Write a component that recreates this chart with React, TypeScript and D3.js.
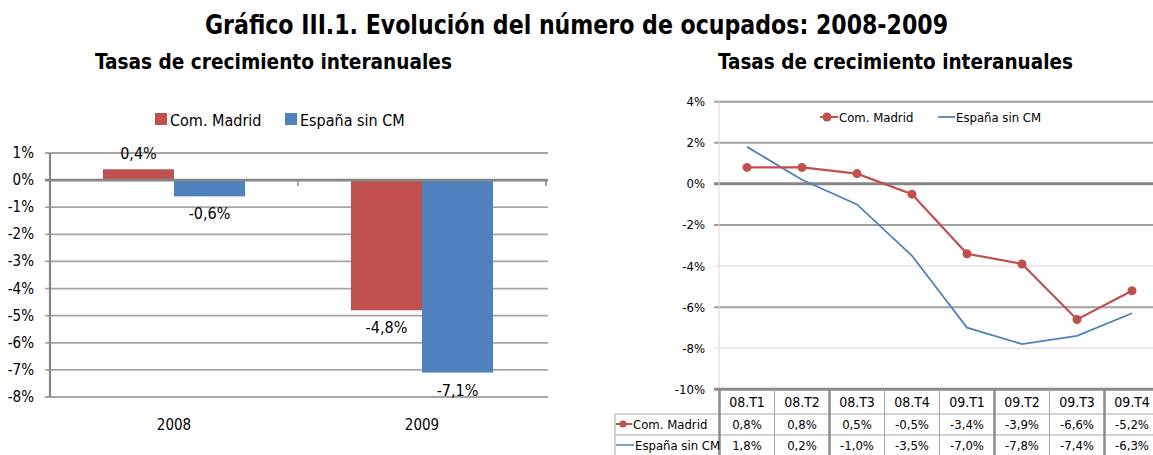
import React from 'react';
import * as d3 from 'd3';

const years = ['2008', '2009'];
const madridAnnual = [0.4, -4.8];
const espanaAnnual = [-0.6, -7.1];
const leftTicks = [1, 0, -1, -2, -3, -4, -5, -6, -7, -8];

const quarters = ['08.T1', '08.T2', '08.T3', '08.T4', '09.T1', '09.T2', '09.T3', '09.T4'];
const madridQ = [0.8, 0.8, 0.5, -0.5, -3.4, -3.9, -6.6, -5.2];
const espanaQ = [1.8, 0.2, -1.0, -3.5, -7.0, -7.8, -7.4, -6.3];
const rightTicks = [4, 2, 0, -2, -4, -6, -8, -10];

const seriesNames = ['Com. Madrid', 'España sin CM'];
const RED = '#C0504D';
const BLUE = '#4F81BD';
const NARROW = '"Liberation Sans Narrow", "Arial Narrow", "DejaVu Sans Condensed", sans-serif';

const esLocale = d3.formatLocale({
  decimal: ',',
  thousands: '.',
  grouping: [3],
  currency: ['', '€'],
  minus: '-',
});
const fmt = (v: number) => esLocale.format('.1f')(v) + '%';

export default function App() {
  // Left chart scales
  const yL = d3.scaleLinear().domain([1, -8]).range([153, 397]);
  const xL = d3.scaleBand<string>().domain(years).range([50, 546]).paddingInner(0.427).paddingOuter(0.2135);
  const xSub = d3.scaleBand<string>().domain(seriesNames).range([0, xL.bandwidth()]);
  const annual = [madridAnnual, espanaAnnual];

  // Right chart scales
  const yR = d3.scaleLinear().domain([4, -10]).range([101.7, 389.3]);
  const xR = d3.scaleBand<string>().domain(quarters).range([719.5, 1159.5]);
  const cx = (q: string) => (xR(q) as number) + xR.bandwidth() / 2;
  const line = d3.line<[string, number]>().x(d => cx(d[0])).y(d => yR(d[1]));
  const madridPts = quarters.map((q, i) => [q, madridQ[i]] as [string, number]);
  const espanaPts = quarters.map((q, i) => [q, espanaQ[i]] as [string, number]);

  const gridStyle = (t: number) => {
    if (t === 0) return { stroke: '#868686', w: 3 };
    if (t === -4 || t === -8) return { stroke: '#d9d9d9', w: 1 };
    return { stroke: '#a0a0a0', w: 2 };
  };

  const thickCols = new Set([0, 2, 5, 7]);
  const colEdges = quarters.map(q => xR(q) as number).concat([xR.range()[1]]);

  return (
    <div style={{ position: 'absolute', left: 0, top: 0 }}>
      <svg width={1153} height={455} style={{ display: 'block', background: '#fff' }} fontFamily={NARROW}>
        {/* Titles */}
        <text x={205} y={34} fontSize={27} fontWeight="bold" fill="#000" textLength={743} lengthAdjust="spacingAndGlyphs">
          Gráfico III.1. Evolución del número de ocupados: 2008-2009
        </text>
        <text x={95} y={69} fontSize={21} fontWeight="bold" fill="#000" textLength={357} lengthAdjust="spacingAndGlyphs">
          Tasas de crecimiento interanuales
        </text>
        <text x={718} y={69} fontSize={21} fontWeight="bold" fill="#000" textLength={355} lengthAdjust="spacingAndGlyphs">
          Tasas de crecimiento interanuales
        </text>

        {/* ===== Left chart ===== */}
        {/* legend */}
        <rect x={155} y={113} width={12} height={12} fill={RED} />
        <text x={170} y={126} fontSize={16} fill="#000">Com. Madrid</text>
        <rect x={285} y={113} width={12} height={12} fill={BLUE} />
        <text x={300} y={126} fontSize={16} fill="#000">España sin CM</text>

        {leftTicks.map(t => (
          <g key={'lt' + t}>
            {t !== 0 && (
              <line x1={45} x2={548} y1={yL(t)} y2={yL(t)} stroke="#a6a6a6" strokeWidth={1.8} />
            )}
            <text x={34} y={yL(t) + 5} textAnchor="end" fontSize={15} fill="#000">{t}%</text>
          </g>
        ))}
        {/* bars */}
        {years.map((yr, i) => (
          <g key={yr}>
            {seriesNames.map((s, j) => {
              const v = annual[j][i];
              const x = (xL(yr) as number) + (xSub(s) as number);
              const y0 = yL(Math.max(0, v));
              const y1 = yL(Math.min(0, v));
              return (
                <g key={s}>
                  <rect x={x} y={y0} width={xSub.bandwidth()} height={y1 - y0} fill={j === 0 ? RED : BLUE} />
                  <text
                    x={x + xSub.bandwidth() / 2}
                    y={v >= 0 ? y0 - 10 : y1 + 23}
                    textAnchor="middle"
                    fontSize={16}
                    fill="#000"
                  >
                    {fmt(v)}
                  </text>
                </g>
              );
            })}
            <text x={(xL(yr) as number) + xL.bandwidth() / 2} y={430} textAnchor="middle" fontSize={15} fill="#000">
              {yr}
            </text>
          </g>
        ))}
        {/* zero line & axis */}
        <line x1={45} x2={548} y1={yL(0)} y2={yL(0)} stroke="#868686" strokeWidth={2.6} />
        {[50, 298, 546].map(x => (
          <line key={'zt' + x} x1={x} x2={x} y1={yL(0)} y2={yL(0) + 6} stroke="#868686" strokeWidth={1.5} />
        ))}
        <line x1={50} x2={50} y1={yL(1)} y2={yL(-8)} stroke="#868686" strokeWidth={2.2} />

        {/* ===== Right chart ===== */}
        {rightTicks.map(t => {
          const g = gridStyle(t);
          return (
            <g key={'rt' + t}>
              {t !== -10 && (
                <line x1={714} x2={1153} y1={yR(t)} y2={yR(t)} stroke={g.stroke} strokeWidth={g.w} />
              )}
              <text x={705} y={yR(t) + 4.5} textAnchor="end" fontSize={13} fill="#000">{t}%</text>
            </g>
          );
        })}
        <line x1={719} x2={719} y1={yR(4)} y2={yR(-10)} stroke="#d9d9d9" strokeWidth={1} />

        {/* legend */}
        <line x1={820} x2={838} y1={117} y2={117} stroke={RED} strokeWidth={2} />
        <circle cx={827} cy={117} r={4.5} fill={RED} />
        <text x={839} y={121.5} fontSize={13} fill="#000">Com. Madrid</text>
        <line x1={938} x2={955} y1={117} y2={117} stroke={BLUE} strokeWidth={1.8} />
        <text x={956} y={121.5} fontSize={13} fill="#000">España sin CM</text>

        {/* lines */}
        <path d={line(espanaPts) || ''} fill="none" stroke={BLUE} strokeWidth={1.8} />
        <path d={line(madridPts) || ''} fill="none" stroke={RED} strokeWidth={2.2} />
        {madridPts.map(p => (
          <circle key={'m' + p[0]} cx={cx(p[0])} cy={yR(p[1])} r={4.5} fill={RED} />
        ))}

        {/* data table */}
        <line x1={714} x2={1153} y1={yR(-10)} y2={yR(-10)} stroke="#8c8c8c" strokeWidth={3} />
        <line x1={615} x2={1153} y1={414} y2={414} stroke="#a6a6a6" strokeWidth={1} />
        <line x1={615} x2={1153} y1={435} y2={435} stroke="#a6a6a6" strokeWidth={1} />
        <line x1={615} x2={615} y1={414} y2={455} stroke="#a6a6a6" strokeWidth={1} />
        {colEdges.map((x, i) => (
          <line
            key={'ce' + i}
            x1={x}
            x2={x}
            y1={yR(-10)}
            y2={455}
            stroke={thickCols.has(i) ? '#8c8c8c' : '#a6a6a6'}
            strokeWidth={thickCols.has(i) ? 2.5 : 1}
          />
        ))}
        {quarters.map((q, i) => (
          <g key={'tc' + q}>
            <text x={cx(q)} y={407} textAnchor="middle" fontSize={14} fill="#000">{q}</text>
            <text x={cx(q)} y={429} textAnchor="middle" fontSize={13} fill="#000">{fmt(madridQ[i])}</text>
            <text x={cx(q)} y={450} textAnchor="middle" fontSize={13} fill="#000">{fmt(espanaQ[i])}</text>
          </g>
        ))}
        <line x1={616} x2={632} y1={424} y2={424} stroke={RED} strokeWidth={2} />
        <circle cx={623} cy={424} r={3.5} fill={RED} />
        <text x={633} y={429} fontSize={13} fill="#000">Com. Madrid</text>
        <line x1={616} x2={634} y1={445} y2={445} stroke={BLUE} strokeWidth={1.5} />
        <text x={635} y={450} fontSize={13} fill="#000">España sin CM</text>
      </svg>
    </div>
  );
}
